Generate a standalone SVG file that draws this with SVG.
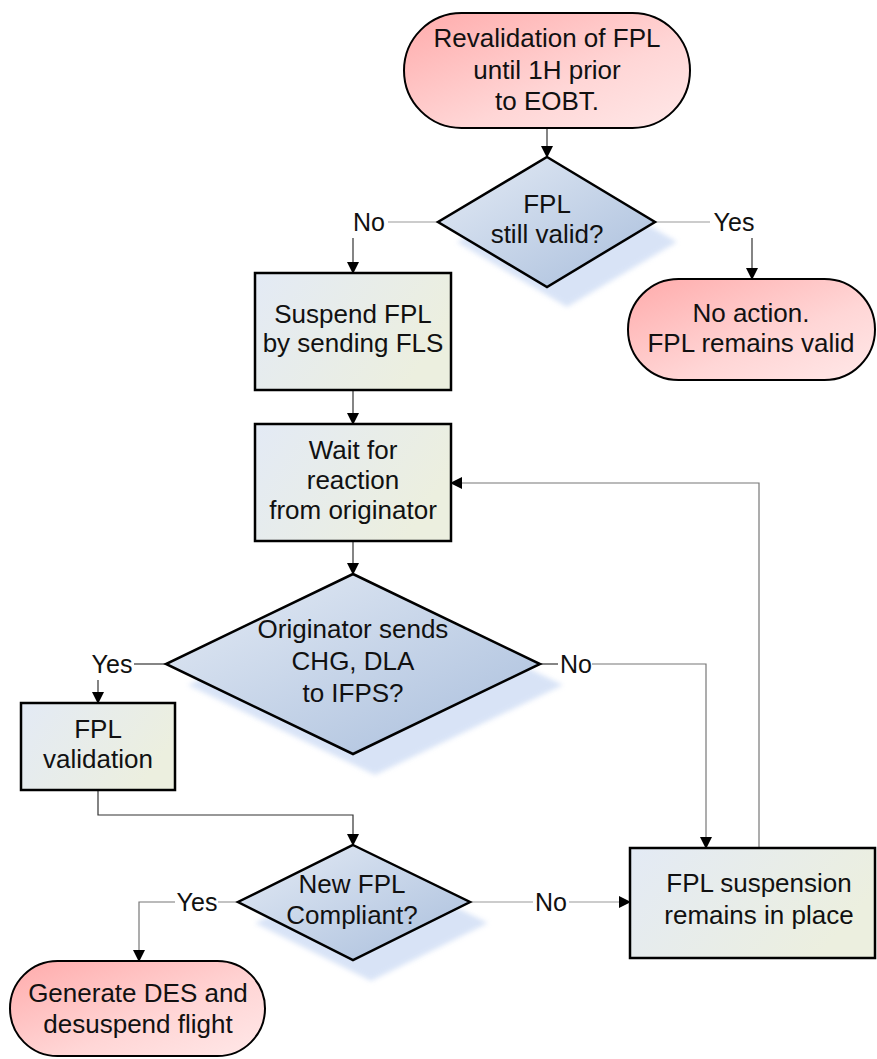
<svg xmlns="http://www.w3.org/2000/svg" width="877" height="1059" viewBox="0 0 877 1059">
  <defs>
    <linearGradient id="gTerm" x1="0" y1="0" x2="1" y2="1">
      <stop offset="0" stop-color="#ffabab"/>
      <stop offset="0.6" stop-color="#ffd6d6"/>
      <stop offset="1" stop-color="#ffe8e8"/>
    </linearGradient>
    <linearGradient id="gBox" x1="0" y1="0" x2="1" y2="0.4">
      <stop offset="0" stop-color="#e3eaf5"/>
      <stop offset="1" stop-color="#ecefdf"/>
    </linearGradient>
    <linearGradient id="gDia" x1="0" y1="0" x2="1" y2="1">
      <stop offset="0" stop-color="#e4ebf5"/>
      <stop offset="1" stop-color="#a9bedc"/>
    </linearGradient>
    <filter id="soft" x="-20%" y="-20%" width="140%" height="140%">
      <feGaussianBlur stdDeviation="2.5"/>
    </filter>
    <marker id="arr" markerWidth="12" markerHeight="12" refX="11" refY="6" orient="auto" markerUnits="userSpaceOnUse">
      <path d="M0,0 L12,6 L0,12 Z" fill="#000"/>
    </marker>
  </defs>
  <style>
    .term { fill: url(#gTerm); stroke: #000; stroke-width: 2; }
    .box { fill: url(#gBox); stroke: #000; stroke-width: 2.5; }
    .dia { fill: url(#gDia); stroke: #000; stroke-width: 2.5; stroke-linejoin: miter; }
    .shadow { fill: #b9cdf0; opacity: 0.55; filter: url(#soft); }
    text { font-family: "Liberation Sans", Arial, sans-serif; font-size: 26px; fill: #111; text-anchor: middle; }
    .lbl { font-size: 25px; }
    .c { fill: none; stroke: #333; stroke-width: 1.2; }
    .cl { fill: none; stroke: #9a9a9a; stroke-width: 1.2; }
    .cm { fill: none; stroke: #777; stroke-width: 1.2; }
  </style>

  <!-- connectors -->
  <g id="connectors">
    <path class="c" d="M547,128 V157" marker-end="url(#arr)"/>
    <path class="cl" d="M438,222 H388"/>
    <text class="lbl" x="369" y="231">No</text>
    <path class="c" d="M353,238 V273" marker-end="url(#arr)"/>
    <path class="cl" d="M655,222 H710"/>
    <text class="lbl" x="734" y="231">Yes</text>
    <path class="c" d="M752,238 V279" marker-end="url(#arr)"/>
    <path class="c" d="M353,390 V424" marker-end="url(#arr)"/>
    <path class="c" d="M353,541 V574" marker-end="url(#arr)"/>
    <path class="c" d="M166,664 H134"/>
    <text class="lbl" x="112" y="673">Yes</text>
    <path class="c" d="M98,680 V703" marker-end="url(#arr)"/>
    <path class="c" d="M540,664 H558"/>
    <text class="lbl" x="576" y="673">No</text>
    <path class="cm" d="M592,664 H706 V848" marker-end="url(#arr)"/>
    <path class="c" d="M98,790 V815 H353 V845" marker-end="url(#arr)"/>
    <path class="cl" d="M238,902 H218"/>
    <text class="lbl" x="197" y="911">Yes</text>
    <path class="cm" d="M175,902 H139 V961" marker-end="url(#arr)"/>
    <path class="cl" d="M470,902 H533"/>
    <text class="lbl" x="551" y="911">No</text>
    <path class="cl" d="M569,902 H630" marker-end="url(#arr)"/>
    <path class="cm" d="M759,848 V483 H451" marker-end="url(#arr)"/>
  </g>

  <!-- start terminal -->
  <g id="start">
    <rect class="term" x="404" y="13" width="286" height="115" rx="57.5"/>
    <text x="547" y="47">Revalidation of FPL</text>
    <text x="547" y="79">until 1H prior</text>
    <text x="547" y="110">to EOBT.</text>
  </g>

  <!-- decision: FPL still valid -->
  <g id="valid">
    <polygon class="shadow" points="567,177 677,242 567,307 457,242"/>
    <polygon class="dia" points="547,157 655,222 547,287 438,222"/>
    <text x="547" y="213">FPL</text>
    <text x="547" y="243">still valid?</text>
  </g>

  <!-- end: no action -->
  <g id="noaction">
    <rect class="term" x="628" y="279" width="247" height="101" rx="50.5"/>
    <text x="751" y="322">No action.</text>
    <text x="751" y="352">FPL remains valid</text>
  </g>

  <!-- suspend -->
  <g id="suspend">
    <rect class="box" x="255" y="273" width="196" height="117"/>
    <text x="353" y="323">Suspend FPL</text>
    <text x="353" y="352">by sending FLS</text>
  </g>

  <!-- wait -->
  <g id="wait">
    <rect class="box" x="255" y="424" width="196" height="117"/>
    <text x="353" y="459">Wait for</text>
    <text x="353" y="489">reaction</text>
    <text x="353" y="519">from originator</text>
  </g>

  <!-- decision: originator sends -->
  <g id="originator">
    <polygon class="shadow" points="375,595 563,685 375,775 188,685"/>
    <polygon class="dia" points="353,574 540,664 353,754 166,664"/>
    <text x="353" y="638">Originator sends</text>
    <text x="353" y="670">CHG, DLA</text>
    <text x="353" y="702">to IFPS?</text>
  </g>

  <!-- FPL validation -->
  <g id="validation">
    <rect class="box" x="21" y="703" width="154" height="87"/>
    <text x="98" y="738">FPL</text>
    <text x="98" y="768">validation</text>
  </g>

  <!-- decision: compliant -->
  <g id="compliant">
    <polygon class="shadow" points="371,866 488,923 371,981 255,923"/>
    <polygon class="dia" points="353,845 470,902 353,960 238,902"/>
    <text x="352" y="893">New FPL</text>
    <text x="352" y="924">Compliant?</text>
  </g>

  <!-- suspension remains -->
  <g id="remains">
    <rect class="box" x="630" y="848" width="245" height="110"/>
    <text x="759" y="892">FPL suspension</text>
    <text x="759" y="924">remains in place</text>
  </g>

  <!-- end: generate DES -->
  <g id="generate">
    <rect class="term" x="10" y="961" width="255" height="95" rx="47.5"/>
    <text x="138" y="1002">Generate DES and</text>
    <text x="138" y="1033">desuspend flight</text>
  </g>
</svg>
